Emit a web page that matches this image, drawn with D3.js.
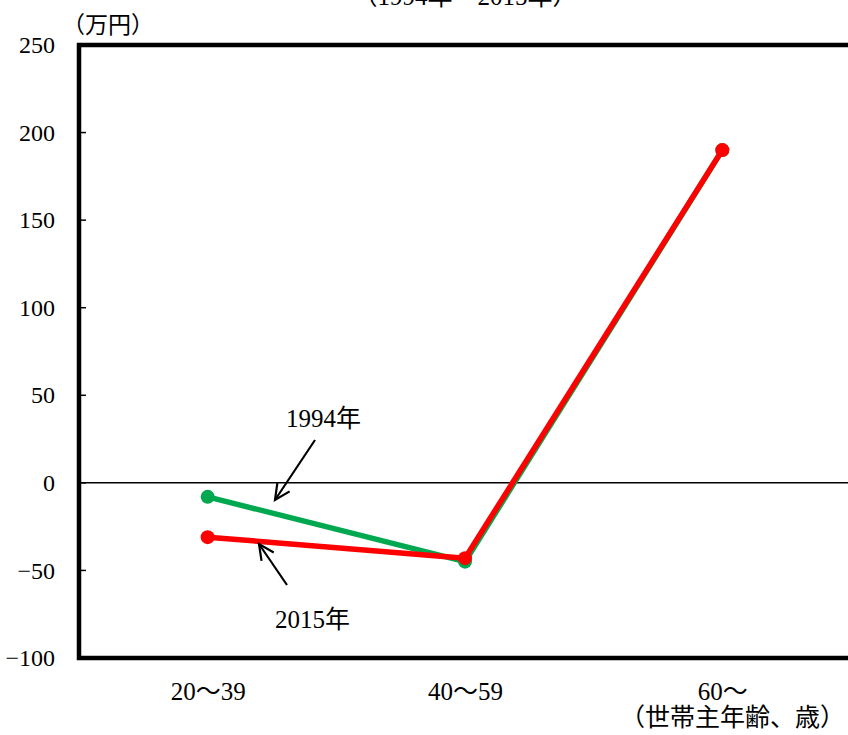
<!DOCTYPE html>
<html><head><meta charset="utf-8">
<script src="https://cdn.jsdelivr.net/npm/d3@7"></script>
<style>
html,body{margin:0;padding:0;background:#fff;}
svg text{font-family:"Liberation Serif","Noto Sans CJK JP",serif;fill:#000;}
</style></head>
<body>
<svg id="c" width="848" height="735"></svg>
<script>
const categories = ["20～39", "40～59", "60～"];
const series1994 = [-8, -45, 190];
const series2015 = [-31, -43, 190];
const yTicks = [250, 200, 150, 100, 50, 0, -50, -100];
const seriesNames = ["1994年", "2015年"];
const titleText = "（1994年～2015年）";
const yUnit = "（万円）";
const xUnit = "（世帯主年齢、歳）";

const svg = d3.select("#c");
const L = 79, R = 851, T = 45, B = 658;
const x = d3.scalePoint().domain(categories).range([L, R]).padding(0.5);
const y = d3.scaleLinear().domain([-100, 250]).range([B, T]);

// title (partially cut off at the top, as in the source)
svg.append("text").attr("x", 465).attr("y", 5).attr("text-anchor", "middle")
  .style("font-size", "25px").text(titleText);

// y axis
const yAxis = d3.axisLeft(y).tickValues(yTicks).tickSize(0).tickPadding(24).tickFormat(d => d < 0 ? "−" + (-d) : d);
const gy = svg.append("g").attr("transform", `translate(${L},0)`).call(yAxis);
gy.select(".domain").remove();
gy.selectAll("text").style("font-size", "24px").style("font-family", "'Liberation Serif',serif");
// inner tick marks
svg.append("g").selectAll("line").data(yTicks.filter(d => d > -100 && d < 250)).join("line")
  .attr("x1", L).attr("x2", L + 7).attr("y1", d => y(d)).attr("y2", d => y(d))
  .attr("stroke", "#000").attr("stroke-width", 1.5);

// zero line
svg.append("line").attr("x1", L).attr("x2", R).attr("y1", y(0)).attr("y2", y(0))
  .attr("stroke", "#000").attr("stroke-width", 1.5);

// frame
svg.append("rect").attr("x", L).attr("y", T).attr("width", R - L).attr("height", B - T)
  .attr("fill", "none").attr("stroke", "#000").attr("stroke-width", 4.5);

// unit labels
svg.append("text").attr("x", 62).attr("y", 33).style("font-size", "23px").text(yUnit);

// x axis labels
const xAxis = d3.axisBottom(x).tickSize(0).tickPadding(24);
const gx = svg.append("g").attr("transform", `translate(0,${B})`).call(xAxis);
gx.select(".domain").remove();
gx.selectAll("text").style("font-size", "25px");
svg.append("text").attr("x", 845).attr("y", 726).attr("text-anchor", "end")
  .style("font-size", "25px").text(xUnit);

// series
const line = d3.line().x((d, i) => x(categories[i])).y(d => y(d));
const series = [
  {name: seriesNames[0], values: series1994, color: "#00a84f"},
  {name: seriesNames[1], values: series2015, color: "#ff0000"}
];
series.forEach(s => {
  svg.append("path").attr("d", line(s.values)).attr("fill", "none")
    .attr("stroke", s.color).attr("stroke-width", 5.5).attr("stroke-linejoin", "round");
  svg.append("g").selectAll("circle").data(s.values).join("circle")
    .attr("cx", (d, i) => x(categories[i])).attr("cy", d => y(d)).attr("r", 7)
    .attr("fill", s.color);
});

// annotations with arrows
function arrow(x1, y1, x2, y2) {
  const g = svg.append("g").attr("stroke", "#000").attr("stroke-width", 2.2).attr("fill", "none");
  g.append("line").attr("x1", x1).attr("y1", y1).attr("x2", x2).attr("y2", y2);
  const a = Math.atan2(y2 - y1, x2 - x1), len = 17, sp = 0.45;
  g.append("path").attr("d",
    `M${x2 - len * Math.cos(a - sp)},${y2 - len * Math.sin(a - sp)}L${x2},${y2}L${x2 - len * Math.cos(a + sp)},${y2 - len * Math.sin(a + sp)}`);
}
svg.append("text").attr("x", 286).attr("y", 427).style("font-size", "25px").text(seriesNames[0]);
arrow(315, 440, 275, 500);
svg.append("text").attr("x", 275).attr("y", 628).style("font-size", "25px").text(seriesNames[1]);
arrow(287, 585, 259, 544);
</script>
</body></html>
